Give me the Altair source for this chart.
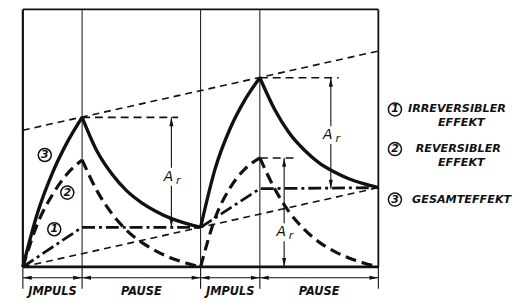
import altair as alt
import pandas as pd

# ---------------- data ----------------
# time axis: 0-1 Impuls, 1-3 Pause, 3-4 Impuls, 4-6 Pause
t_grid = [0, 0.25, 0.5, 0.75, 1, 1.25, 1.5, 1.75, 2, 2.25, 2.5, 2.75, 3,
          3.25, 3.5, 3.75, 4, 4.25, 4.5, 4.75, 5, 5.25, 5.5, 5.75, 6]
reversible = [0, 44, 73, 94, 108, 77, 54, 37, 25, 16, 9, 4, 0,
              50, 80, 99, 110, 79, 55, 38, 25, 16, 9, 4, 0]
total = [0, 55, 95, 126, 151, 117, 94, 77, 65, 56, 49, 44, 40,
         100, 140, 169, 191, 159, 135, 118, 105, 96, 89, 84, 80]
irr_t = [0, 1, 3, 4, 6]
irr_v = [0, 40, 40, 79, 80]
seg_bounds = [0, 1, 3, 4, 6]

guide_t = [0, 6]
guide_lower = [0, 80]
guide_upper = [138, 218]

dividers = [1, 3, 4]
phase_labels = ["JMPULS", "PAUSE", "JMPULS", "PAUSE"]
phase_centers = [0.5, 2, 3.5, 5]

# A_r dimensions: x, top, bottom, ref-line start, ref-line end, label y
ar_x = [2.507, 5.198, 4.41]
ar_top = [151, 191, 110]
ar_bot = [40, 79, 0]
ar_ref_start = [1, 4, 4]
ar_ref_end = [2.62, 5.33, 4.58]
ar_label_y = [91, 133, 35]

curve_nums = ["1", "2", "3"]
curve_num_t = [0.53, 0.75, 0.37]
curve_num_y = [38, 75, 113]

legend_nums = ["1", "2", "3"]
legend_num_t = [6.28, 6.28, 6.28]
legend_num_y = [159, 119, 68]
legend_lines = ["IRREVERSIBLER", "EFFEKT", "REVERSIBLER", "EFFEKT", "GESAMTEFFEKT"]
legend_line_t = [6.5, 7.4, 6.63, 7.4, 6.57]
legend_line_y = [159, 145, 119, 105, 68]
legend_line_align = ["left", "center", "left", "center", "left"]

# ---------------- helpers ----------------
BLACK = "#111111"
FONT = "DejaVu Sans"
xs = alt.Scale(domain=[0, 6], range=[15, 374], nice=False, zero=False)
ys = alt.Scale(domain=[0, 260], range=[260, 0], nice=False, zero=False)


def X(f="t"):
    return alt.X(f, type="quantitative", scale=xs, axis=None)


def Y(f="y"):
    return alt.Y(f, type="quantitative", scale=ys, axis=None)


def segmented(values):
    rows = []
    for i in range(len(seg_bounds) - 1):
        a, b = seg_bounds[i], seg_bounds[i + 1]
        for t, v in zip(t_grid, values):
            if a <= t <= b:
                rows.append({"t": t, "y": v, "seg": i})
    return pd.DataFrame(rows)


ARROW_L = "M0,0L2,-0.45L2,0.45Z"
ARROW_R = "M0,0L-2,-0.45L-2,0.45Z"
ARROW_U = "M0,0L-0.45,2L0.45,2Z"
ARROW_D = "M0,0L-0.45,-2L0.45,-2Z"

layers = []

# frame
frame = pd.DataFrame({
    "t": [0, 6, 0, 0], "t2": [0, 6, 6, 6],
    "y": [0, 0, 260, 0], "y2": [260, 260, 260, 0],
    "w": [2.2, 1.8, 1.8, 2.6],
})
for i in range(4):
    d = frame.iloc[[i]]
    if i < 2:
        enc = dict(x=X("t"), y=Y("y"), y2="y2")
    else:
        enc = dict(x=X("t"), x2="t2", y=Y("y"))
    layers.append(alt.Chart(d).mark_rule(
        color=BLACK, strokeWidth=float(frame.w[i])).encode(**enc))

# vertical dividers
layers.append(alt.Chart(pd.DataFrame({"t": dividers, "y": [0] * 3, "y2": [260] * 3})).mark_rule(
    color=BLACK, strokeWidth=1).encode(x=X("t"), y=Y("y"), y2="y2"))

# thin dashed guide lines
gdf = pd.DataFrame({"t": guide_t * 2, "y": guide_lower + guide_upper,
                    "g": ["lo", "lo", "up", "up"]})
layers.append(alt.Chart(gdf).mark_line(
    color=BLACK, strokeWidth=1.6, strokeDash=[7, 5]).encode(
    x=X(), y=Y(), detail="g:N"))

# curves
layers.append(alt.Chart(pd.DataFrame({"t": irr_t, "y": irr_v})).mark_line(
    color=BLACK, strokeWidth=2.8, strokeDash=[13, 4, 3, 4]).encode(x=X(), y=Y()))
layers.append(alt.Chart(segmented(reversible)).mark_line(
    color=BLACK, strokeWidth=3.2, strokeDash=[11, 6], interpolate="monotone").encode(
    x=X(), y=Y(), detail="seg:N"))
layers.append(alt.Chart(segmented(total)).mark_line(
    color=BLACK, strokeWidth=3.4, interpolate="monotone").encode(
    x=X(), y=Y(), detail="seg:N"))

# A_r reference lines
ar = pd.DataFrame({"x": ar_x, "top": ar_top, "bot": ar_bot,
                   "rs": ar_ref_start, "re": ar_ref_end, "ly": ar_label_y})
ar["gap_hi"] = ar.ly + 9
ar["gap_lo"] = ar.ly - 9
layers.append(alt.Chart(ar).mark_rule(
    color=BLACK, strokeWidth=1.6, strokeDash=[8, 5]).encode(
    x=X("rs"), x2="re", y=Y("top")))
layers.append(alt.Chart(ar).mark_rule(color=BLACK, strokeWidth=1.1).encode(
    x=X("x"), y=Y("top"), y2="gap_hi"))
layers.append(alt.Chart(ar).mark_rule(color=BLACK, strokeWidth=1.1).encode(
    x=X("x"), y=Y("gap_lo"), y2="bot"))
layers.append(alt.Chart(ar).mark_point(
    shape=ARROW_U, filled=True, color=BLACK, size=81, opacity=1).encode(
    x=X("x"), y=Y("top")))
layers.append(alt.Chart(ar).mark_point(
    shape=ARROW_D, filled=True, color=BLACK, size=81, opacity=1).encode(
    x=X("x"), y=Y("bot")))
ar["A"] = "A"
ar["r"] = "r"
layers.append(alt.Chart(ar).mark_text(
    font=FONT, fontStyle="italic", fontSize=14, color=BLACK,
    dx=-3, baseline="middle").encode(x=X("x"), y=Y("ly"), text="A:N"))
layers.append(alt.Chart(ar).mark_text(
    font=FONT, fontStyle="italic", fontSize=11, color=BLACK,
    dx=7, dy=4, baseline="middle").encode(x=X("x"), y=Y("ly"), text="r:N"))

# bottom dimension line
dim = pd.DataFrame({"t": [0], "t2": [6], "y": [-11]})
layers.append(alt.Chart(dim).mark_rule(color=BLACK, strokeWidth=1.1).encode(
    x=X("t"), x2="t2", y=Y("y")))
tk = pd.DataFrame({"t": seg_bounds, "y": [0] * 5, "y2": [-22] * 5})
layers.append(alt.Chart(tk).mark_rule(color=BLACK, strokeWidth=1.1).encode(
    x=X("t"), y=Y("y"), y2="y2"))
al = pd.DataFrame({"t": seg_bounds[:-1], "y": [-11] * 4})
layers.append(alt.Chart(al).mark_point(
    shape=ARROW_L, filled=True, color=BLACK, size=81, opacity=1).encode(
    x=X("t"), y=Y("y")))
ar_r = pd.DataFrame({"t": seg_bounds[1:], "y": [-11] * 4})
layers.append(alt.Chart(ar_r).mark_point(
    shape=ARROW_R, filled=True, color=BLACK, size=81, opacity=1).encode(
    x=X("t"), y=Y("y")))
ph = pd.DataFrame({"t": phase_centers, "lab": phase_labels, "y": [-25] * 4})
layers.append(alt.Chart(ph).mark_text(
    font=FONT, fontStyle="italic", fontWeight="bold", fontSize=11.5, color=BLACK,
    baseline="middle").encode(x=X("t"), y=Y("y"), text="lab:N"))

# circled numbers (in plot and legend)
nums = pd.DataFrame({"t": curve_num_t + legend_num_t,
                     "y": curve_num_y + legend_num_y,
                     "n": curve_nums + legend_nums})
layers.append(alt.Chart(nums).mark_point(
    shape="circle", filled=False, color=BLACK, strokeWidth=1.5, size=175, opacity=1).encode(
    x=X(), y=Y()))
layers.append(alt.Chart(nums).mark_text(
    font=FONT, fontStyle="italic", fontWeight="bold", fontSize=11, color=BLACK,
    baseline="middle").encode(x=X(), y=Y(), text="n:N"))

# legend text
leg = pd.DataFrame({"t": legend_line_t, "y": legend_line_y,
                    "lab": legend_lines, "al": legend_line_align})
for a in ["left", "center"]:
    layers.append(alt.Chart(leg[leg.al == a]).mark_text(
        font=FONT, fontStyle="italic", fontWeight="bold", fontSize=11.3, color=BLACK,
        baseline="middle", align=a).encode(x=X(), y=Y(), text="lab:N"))

chart = alt.layer(*layers).properties(
    width=512, height=292, padding=0,
    autosize=alt.AutoSizeParams(type="none"),
    background="white",
).configure_view(stroke=None)

chart.save("out.html", embed_options={"renderer": "svg", "actions": False})
